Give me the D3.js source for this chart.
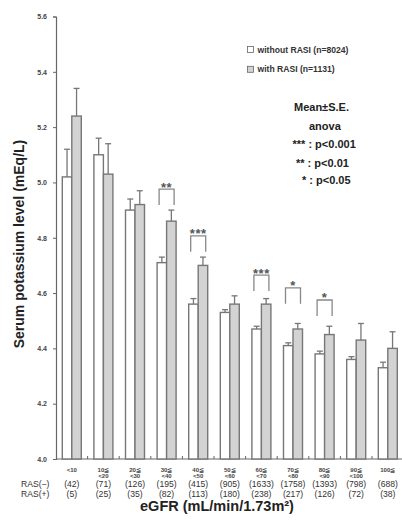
<!DOCTYPE html>
<html>
<head>
<meta charset="utf-8">
<script src="https://cdn.jsdelivr.net/npm/d3@7"></script>
<style>
  body { margin: 0; background: #fff; }
  svg { font-family: "Liberation Sans", Arial, sans-serif; }
</style>
</head>
<body>
<div id="chart"></div>
<script>
// eGFR categories (two label lines each)
const categories = ["<10", "10-20", "20-30", "30-40", "40-50", "50-60", "60-70", "70-80", "80-90", "90-100", "100+"];
const catLine1 = ["<10", "10≦", "20≦", "30≦", "40≦", "50≦", "60≦", "70≦", "80≦", "90≦", "100≦"];
const catLine2 = ["", "<20", "<30", "<40", "<50", "<60", "<70", "<80", "<90", "<100", ""];

// mean serum K and mean + S.E.
const withoutMean = [5.02, 5.10, 4.90, 4.71, 4.56, 4.53, 4.47, 4.41, 4.38, 4.36, 4.33];
const withoutErr  = [5.12, 5.16, 4.94, 4.73, 4.58, 4.54, 4.48, 4.42, 4.39, 4.37, 4.35];
const withMean    = [5.24, 5.03, 4.92, 4.86, 4.70, 4.56, 4.56, 4.47, 4.45, 4.43, 4.40];
const withErr     = [5.34, 5.14, 4.97, 4.90, 4.73, 4.59, 4.58, 4.49, 4.48, 4.49, 4.46];

// patient counts
const nWithout = ["(42)", "(71)", "(126)", "(195)", "(415)", "(905)", "(1633)", "(1758)", "(1393)", "(798)", "(688)"];
const nWith    = ["(5)", "(25)", "(35)", "(82)", "(113)", "(180)", "(238)", "(217)", "(126)", "(72)", "(38)"];

// significance brackets: category index, stars, bracket top value
const sigIndex = [3, 4, 6, 7, 8];
const sigLabel = ["**", "***", "***", "*", "*"];
const sigTop   = [4.976, 4.807, 4.665, 4.619, 4.575];

const yTicks = [4.0, 4.2, 4.4, 4.6, 4.8, 5.0, 5.2, 5.4, 5.6];

const width = 402, height = 520;
const marginLeft = 56, plotBottom = 459, plotTop = 16.5;
const band = 31.6;

const svg = d3.select("#chart").append("svg")
    .attr("width", width)
    .attr("height", height);

const x = d3.scaleBand()
    .domain(categories)
    .range([marginLeft, marginLeft + band * categories.length])
    .padding(0);

const series = ["without", "with"];
const x1 = d3.scaleBand()
    .domain(series)
    .range([x.bandwidth() / 2 - 9.5, x.bandwidth() / 2 + 9.5]);

const y = d3.scaleLinear().domain([4.0, 5.6]).range([plotBottom, plotTop]);

const axisColor = "#666";

// y axis
const yAxis = svg.append("g")
    .attr("transform", `translate(${marginLeft},0)`)
    .call(d3.axisLeft(y).tickValues(yTicks).tickFormat(d3.format(".1f")).tickSize(3).tickPadding(6));
yAxis.select(".domain").attr("stroke", axisColor).attr("stroke-width", 1.2);
yAxis.selectAll(".tick line").attr("stroke", axisColor);
yAxis.selectAll(".tick text")
    .attr("font-size", "7px")
    .attr("font-weight", "bold")
    .attr("fill", "#444")
    .attr("font-family", "Liberation Sans, Arial, sans-serif");

// x axis with inward ticks at category borders
const xAxisG = svg.append("g");
xAxisG.append("line")
    .attr("x1", marginLeft).attr("x2", x.range()[1])
    .attr("y1", plotBottom).attr("y2", plotBottom)
    .attr("stroke", axisColor).attr("stroke-width", 1.2);
xAxisG.selectAll(".xtick")
    .data(categories.slice(1))
    .enter()
    .append("line")
    .attr("x1", d => x(d)).attr("x2", d => x(d))
    .attr("y1", plotBottom).attr("y2", plotBottom - 3)
    .attr("stroke", axisColor);

// bars
const groups = svg.selectAll(".grp")
    .data(categories)
    .enter()
    .append("g")
    .attr("transform", d => `translate(${x(d)},0)`);

const barData = (i) => [
    {key: "without", mean: withoutMean[i], err: withoutErr[i], fill: "#ffffff"},
    {key: "with", mean: withMean[i], err: withErr[i], fill: "#d3d3d3"}
];

groups.each(function (c, i) {
    const g = d3.select(this);
    barData(i).forEach(b => {
        const cx = x1(b.key) + x1.bandwidth() / 2;
        // error bar (upper only)
        g.append("line")
            .attr("x1", cx).attr("x2", cx)
            .attr("y1", y(b.mean)).attr("y2", y(b.err))
            .attr("stroke", "#777").attr("stroke-width", 1.3);
        g.append("line")
            .attr("x1", cx - 3).attr("x2", cx + 3)
            .attr("y1", y(b.err)).attr("y2", y(b.err))
            .attr("stroke", "#777").attr("stroke-width", 1.3);
        g.append("rect")
            .attr("x", x1(b.key))
            .attr("y", y(b.mean))
            .attr("width", x1.bandwidth())
            .attr("height", plotBottom - y(b.mean))
            .attr("fill", b.fill)
            .attr("stroke", "#777")
            .attr("stroke-width", 1.4);
    });
});

// significance brackets
sigIndex.forEach((ci, k) => {
    const cx = x(categories[ci]) + x.bandwidth() / 2;
    const yt = y(sigTop[k]);
    const yb = yt + 16;
    svg.append("path")
        .attr("d", `M${cx - 7.5},${yb}V${yt}H${cx + 7.5}V${yb}`)
        .attr("fill", "none")
        .attr("stroke", "#888")
        .attr("stroke-width", 1.3);
    svg.append("text")
        .attr("x", cx)
        .attr("y", yt + 2.5)
        .attr("text-anchor", "middle")
        .attr("font-size", "13px")
        .attr("font-weight", "bold")
        .attr("fill", "#555")
        .attr("letter-spacing", "0.5px")
        .text(sigLabel[k]);
});

// category labels
const catLabels = svg.append("g")
    .attr("font-size", "6px")
    .attr("font-weight", "bold")
    .attr("fill", "#444")
    .attr("text-anchor", "middle");
categories.forEach((c, i) => {
    const cx = x(c) + x.bandwidth() / 2;
    catLabels.append("text").attr("x", cx).attr("y", 471.5).text(catLine1[i]);
    if (catLine2[i]) catLabels.append("text").attr("x", cx).attr("y", 477.5).text(catLine2[i]);
});

// RAS count rows
const rows = svg.append("g").attr("font-size", "8.6px").attr("fill", "#333");
rows.append("text").attr("x", 21).attr("y", 486.5).text("RAS(−)");
rows.append("text").attr("x", 21).attr("y", 496.5).text("RAS(+)");
categories.forEach((c, i) => {
    const cx = x(c) + x.bandwidth() / 2;
    rows.append("text").attr("x", cx).attr("y", 486.5).attr("text-anchor", "middle").text(nWithout[i]);
    rows.append("text").attr("x", cx).attr("y", 496.5).attr("text-anchor", "middle").text(nWith[i]);
});

// axis titles
svg.append("text")
    .attr("x", 217).attr("y", 511)
    .attr("text-anchor", "middle")
    .attr("font-size", "14.5px")
    .attr("font-weight", "bold")
    .attr("fill", "#222")
    .text("eGFR (mL/min/1.73m²)");

svg.append("text")
    .attr("transform", "translate(23.5,244) rotate(-90)")
    .attr("text-anchor", "middle")
    .attr("font-size", "14px")
    .attr("font-weight", "bold")
    .attr("fill", "#222")
    .text("Serum potassium level (mEq/L)");

// legend
const legend = svg.append("g").attr("font-size", "8.6px").attr("font-weight", "bold").attr("fill", "#333");
[["#ffffff", "without RASI (n=8024)", 49.5], ["#d3d3d3", "with RASI (n=1131)", 69.3]].forEach(([fill, label, cy]) => {
    legend.append("rect")
        .attr("x", 247.5).attr("y", cy - 3)
        .attr("width", 6).attr("height", 6)
        .attr("fill", fill).attr("stroke", "#666").attr("stroke-width", 0.8);
    legend.append("text").attr("x", 257.5).attr("y", cy + 3).text(label);
});

// statistics note
const note = svg.append("g").attr("font-size", "11px").attr("font-weight", "bold").attr("fill", "#222");
note.append("text").attr("x", 294).attr("y", 110.5).text("Mean±S.E.");
note.append("text").attr("x", 309).attr("y", 130).text("anova");
note.append("text").attr("x", 292.5).attr("y", 148).text("*** : p<0.001");
note.append("text").attr("x", 296).attr("y", 166.5).text("** : p<0.01");
note.append("text").attr("x", 302).attr("y", 184).text("* : p<0.05");
</script>
</body>
</html>
